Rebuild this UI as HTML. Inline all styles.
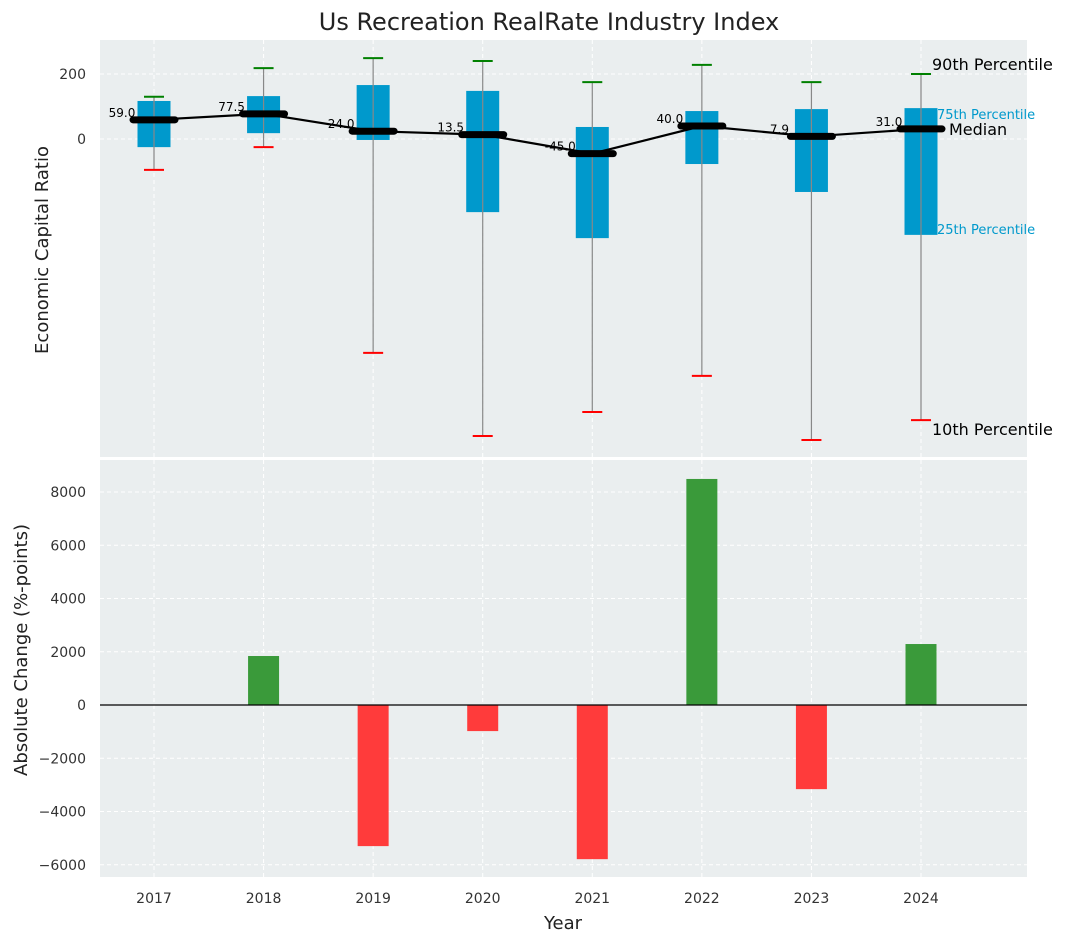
<!DOCTYPE html>
<html><head><meta charset="utf-8"><style>
body{margin:0;background:#fff;font-family:"Liberation Sans","DejaVu Sans",sans-serif}
</style></head><body>
<svg id="c" width="1067" height="942" xmlns="http://www.w3.org/2000/svg" font-family="DejaVu Sans, Liberation Sans, sans-serif"></svg>
<script>
const years=[2017,2018,2019,2020,2021,2022,2023,2024];
const p90=[130,218,249,240,175,228,175,200];
const p75=[117,132,166,148,37,86,92,95];
const medians=[59.0,77.5,24.0,13.5,-45.0,40.0,7.9,31.0];
const p25=[-25,18,-3,-225,-305,-77,-163,-295];
const p10=[-95,-25,-658,-914,-840,-729,-926,-865];
const changes=[0,1840,-5300,-980,-5790,8490,-3160,2290];
const topTicks=[0,200];
const botTicks=[-6000,-4000,-2000,0,2000,4000,6000,8000];

const svg=document.getElementById('c');const NS='http://www.w3.org/2000/svg';
function el(t,a,p){const e=document.createElementNS(NS,t);for(const k in a)e.setAttribute(k,a[k]);(p||svg).appendChild(e);return e;}
const L=100,R=1027;
const x=i=>154+i*(921-154)/7;
const T0=40,T1=457,yT=v=>139-v*0.325;
const B0=460,B1=877,yB=v=>705-v*(213/8000);

let t=el('text',{x:549,y:30,'text-anchor':'middle','font-size':24,fill:'#222'});t.textContent='Us Recreation RealRate Industry Index';


let g=el('rect',{x:L,y:T0,width:R-L,height:T1-T0,fill:'#eaeeef'});

g=el('rect',{x:L,y:B0,width:R-L,height:B1-B0,fill:'#eaeeef'});


for(let i=0;i<8;i++){
 const xv=x(i);
 el('line',{x1:xv,x2:xv,y1:T0,y2:T1,stroke:'#fff','stroke-dasharray':'4,3'});
 el('line',{x1:xv,x2:xv,y1:B0,y2:B1,stroke:'#fff','stroke-dasharray':'4,3'});
}
topTicks.forEach(v=>{el('line',{x1:L,x2:R,y1:yT(v),y2:yT(v),stroke:'#fff','stroke-dasharray':'4,3'});
 const tt=el('text',{x:86,y:yT(v)+5,'text-anchor':'end','font-size':14,fill:'#333'});tt.textContent=v;
 });
botTicks.forEach(v=>{el('line',{x1:L,x2:R,y1:yB(v),y2:yB(v),stroke:'#fff','stroke-dasharray':'4,3'});
 const tt=el('text',{x:86,y:yB(v)+5,'text-anchor':'end','font-size':14,fill:'#333'});tt.textContent=v<0?'−'+(-v):v;
 });

years.forEach((yr,i)=>{
 const cx=x(i);
 const b=el('rect',{x:cx-16.5,y:yT(p75[i]),width:33,height:yT(p25[i])-yT(p75[i]),fill:'#0099cc'});
 
 el('line',{x1:cx,x2:cx,y1:yT(p90[i]),y2:yT(p10[i]),stroke:'#888','stroke-width':1.2});
 let c=el('line',{x1:cx-10,x2:cx+10,y1:yT(p90[i]),y2:yT(p90[i]),stroke:'green','stroke-width':2});
 
 c=el('line',{x1:cx-10,x2:cx+10,y1:yT(p10[i]),y2:yT(p10[i]),stroke:'red','stroke-width':2});
 
});
const pts=medians.map((m,i)=>x(i)+','+yT(m)).join(' ');
let ml=el('polyline',{points:pts,fill:'none',stroke:'#000','stroke-width':2.2});

medians.forEach((m,i)=>{
 const cx=x(i);
 const mk=el('line',{x1:cx-21,x2:cx+21,y1:yT(m),y2:yT(m),stroke:'#000','stroke-width':7,'stroke-linecap':'round'});
 
 const lb=el('text',{x:cx-32,y:yT(m)-3,'text-anchor':'middle','font-size':12,fill:'#000'});lb.textContent=m.toFixed(1);
 
});
const n=7;
[['90th Percentile',932,yT(p90[n])-4,16,'#000'],['75th Percentile',937,yT(p75[n])+11,13,'#0099cc'],['Median',949,yT(medians[n])+6,16,'#000'],['25th Percentile',937,yT(p25[n])-1,13,'#0099cc'],['10th Percentile',932,yT(p10[n])+15,16,'#000']].forEach(a=>{
 const e=el('text',{x:a[1],y:a[2],'font-size':a[3],fill:a[4]});e.textContent=a[0];
 });

changes.forEach((v,i)=>{
 if(v===0)return;
 const y0=yB(0),y1=yB(v);
 const r=el('rect',{x:x(i)-15.5,y:Math.min(y0,y1),width:31,height:Math.abs(y1-y0),fill:v>0?'#3a9a3a':'#ff3b3b'});
 
});
el('line',{x1:L,x2:R,y1:yB(0),y2:yB(0),stroke:'#000','stroke-width':1.2});
years.forEach((yr,i)=>{const tt=el('text',{x:x(i),y:903,'text-anchor':'middle','font-size':14,fill:'#333'});tt.textContent=yr;
 });
t=el('text',{x:563,y:929,'text-anchor':'middle','font-size':18,fill:'#222'});t.textContent='Year';

t=el('text',{x:48,y:250,'text-anchor':'middle','font-size':18,fill:'#222',transform:'rotate(-90 48 250)'});t.textContent='Economic Capital Ratio';

t=el('text',{x:27,y:650,'text-anchor':'middle','font-size':18,fill:'#222',transform:'rotate(-90 27 650)'});t.textContent='Absolute Change (%-points)';

</script>
</body></html>
